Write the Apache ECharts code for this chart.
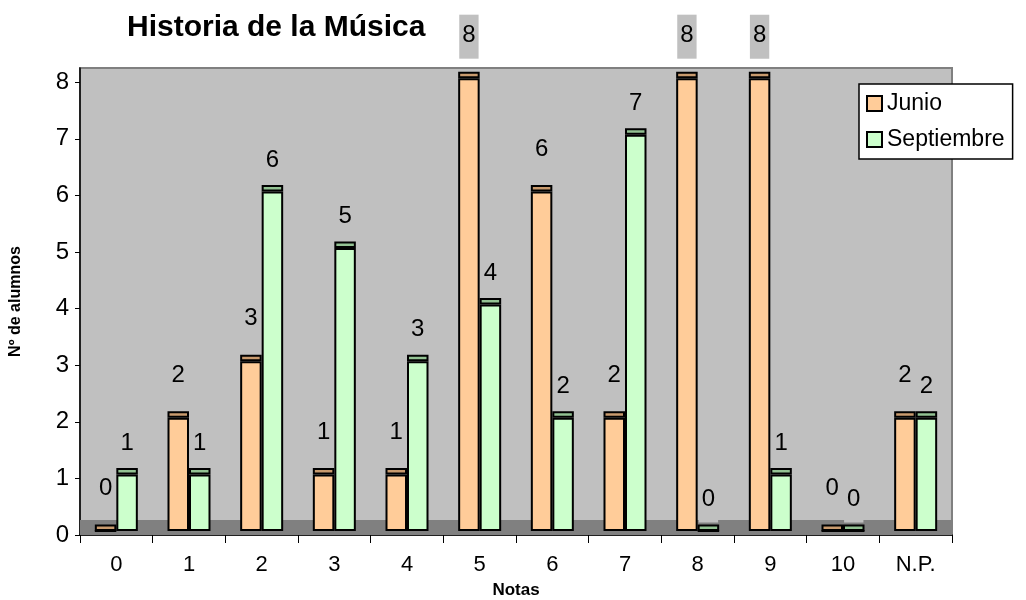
<!DOCTYPE html>
<html><head><meta charset="utf-8">
<script src="https://cdn.jsdelivr.net/npm/echarts@6/dist/echarts.min.js"></script>
<style>html,body{margin:0;padding:0;background:#fff}#c{width:1026px;height:600px}</style>
</head><body><div id="c"></div>
<script>
const categories = ['0','1','2','3','4','5','6','7','8','9','10','N.P.'];
const junio = [0,2,3,1,1,8,6,2,8,8,0,2];
const septiembre = [1,1,6,5,3,4,2,7,0,1,0,2];
const yTicks = [0,1,2,3,4,5,6,7,8];

const FONT = 'Liberation Sans, Arial, sans-serif';
const LIFT = 0.07, CAP = 0.115;

function group(name, values, stack, body, cap, labelDist) {
  return [
    { name: name + '_base', type: 'bar', stack, data: values.map(() => LIFT),
      itemStyle: { color: 'transparent' }, barWidth: 21.5, barGap: '0%', z: 3, silent: true },
    { name, type: 'bar', stack, data: values.slice(), barWidth: 21.5, barGap: '0%', z: 3,
      itemStyle: { color: body, borderColor: '#000', borderWidth: 2 } },
    { name: name + '_cap', type: 'bar', stack, data: values.map(() => CAP), barWidth: 21.5, barGap: '0%', z: 3,
      itemStyle: { color: cap, borderColor: '#000', borderWidth: 2 },
      label: { show: true, position: 'top', distance: labelDist,
        formatter: p => String(values[p.dataIndex]),
        fontFamily: FONT, fontSize: 24, color: '#000', lineHeight: 24,
        backgroundColor: '#c0c0c0', padding: [9, 3, 11, 3] } }
  ];
}

const chart = echarts.init(document.getElementById('c'));
chart.setOption({
  animation: false,
  backgroundColor: '#fff',
  textStyle: { fontFamily: FONT },
  title: { text: 'Historia de la Música', left: 122, top: 8,
    textStyle: { fontFamily: FONT, fontSize: 30, fontWeight: 'bold', color: '#000' } },
  legend: { data: ['Junio', 'Septiembre'], orient: 'vertical', left: 859, top: 84,
    backgroundColor: '#fff', borderColor: '#000', borderWidth: 1.5, padding: [8, 8, 8, 7],
    itemWidth: 15, itemHeight: 15, itemGap: 13, z: 10, icon: 'rect',
    itemStyle: { borderColor: '#000', borderWidth: 2 },
    textStyle: { fontFamily: FONT, fontSize: 23, color: '#000' } },
  grid: { left: 80, right: 74, top: 68, bottom: 65, show: true, outerBoundsMode: 'none', containLabel: false,
    backgroundColor: '#c0c0c0', borderColor: '#808080', borderWidth: 2 },
  xAxis: { type: 'category', data: categories, name: 'Notas', nameLocation: 'middle', nameGap: 47,
    nameTextStyle: { fontFamily: FONT, fontSize: 17, fontWeight: 'bold', color: '#000' },
    axisLine: { lineStyle: { color: '#000', width: 1.5 } },
    axisTick: { show: true, length: 8, lineStyle: { color: '#000' } },
    axisLabel: { fontFamily: FONT, fontSize: 22, color: '#000', margin: 19 } },
  yAxis: { type: 'value', min: 0, max: 8.25, interval: 1, name: 'Nº de alumnos',
    nameLocation: 'middle', nameGap: 56,
    nameTextStyle: { fontFamily: FONT, fontSize: 16, fontWeight: 'bold', color: '#000' },
    axisLine: { show: true, lineStyle: { color: '#000', width: 1.5 } },
    axisTick: { show: true, length: 5, lineStyle: { color: '#000' }, customValues: yTicks },
    axisLabel: { fontFamily: FONT, fontSize: 24, color: '#000', margin: 11, customValues: yTicks,
      formatter: v => (Number.isInteger(v) ? String(v) : '') },
    splitLine: { show: false } },
  series: [
    { name: 'floor', type: 'line', data: [], z: 1, silent: true,
      markArea: { silent: true, itemStyle: { color: '#808080' }, data: [[{ yAxis: 0 }, { yAxis: 0.265 }]] } },
    ...group('Junio', junio, 'j', '#ffcc99', '#c99b6e', 13),
    ...group('Septiembre', septiembre, 's', '#ccffcc', '#93c293', 2)
  ]
});
</script></body></html>
